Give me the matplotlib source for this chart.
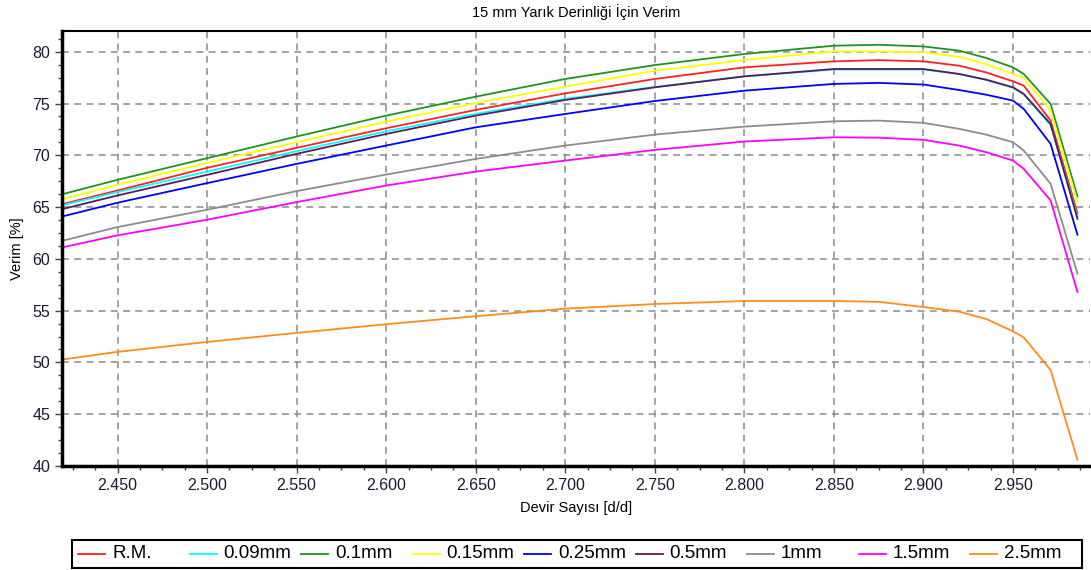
import matplotlib
matplotlib.use("Agg")
import matplotlib.pyplot as plt
from matplotlib.lines import Line2D
from matplotlib.patches import Rectangle
from matplotlib.ticker import MultipleLocator, FixedLocator

plt.rcParams['font.family'] = ['Liberation Sans', 'DejaVu Sans']

# devir sayisi (d/d)
devir = [2420, 2450, 2500, 2550, 2600, 2650, 2700, 2750, 2800, 2850,
         2875, 2900, 2920, 2935, 2950, 2956, 2971, 2986]

# verim (%) - her yarik genisligi icin
rm = [65.32, 66.6, 68.79, 70.72, 72.61, 74.38, 75.98, 77.37, 78.49, 79.07,
      79.19, 79.07, 78.65, 78.0, 77.14, 76.72, 73.35, 64.42]
g009 = [65.22, 66.45, 68.43, 70.4, 72.32, 74.0, 75.45, 76.6, 77.62, 78.28,
        78.28, 78.28, 77.85, 77.28, 76.52, 75.9, 72.9, 64.1]
g01 = [66.28, 67.63, 69.72, 71.81, 73.83, 75.66, 77.37, 78.71, 79.78, 80.58,
       80.67, 80.51, 80.1, 79.4, 78.49, 77.85, 74.96, 66.02]
g015 = [65.8, 67.15, 69.27, 71.26, 73.25, 75.05, 76.63, 78.17, 79.2, 80.03,
        80.03, 79.94, 79.5, 78.8, 77.85, 77.46, 74.31, 65.48]
g025 = [64.13, 65.42, 67.31, 69.17, 70.94, 72.7, 73.99, 75.24, 76.24, 76.89,
        76.99, 76.83, 76.3, 75.85, 75.28, 74.48, 71.1, 62.33]
g05 = [64.84, 66.12, 68.11, 70.14, 72.06, 73.83, 75.34, 76.56, 77.62, 78.33,
       78.33, 78.33, 77.85, 77.3, 76.56, 75.92, 73.03, 63.87]
g1 = [61.78, 63.07, 64.74, 66.54, 68.14, 69.65, 70.94, 72.0, 72.77, 73.28,
      73.35, 73.13, 72.55, 72.0, 71.26, 70.46, 67.25, 58.57]
g15 = [61.14, 62.27, 63.78, 65.48, 67.08, 68.43, 69.49, 70.52, 71.33, 71.74,
       71.7, 71.49, 70.94, 70.3, 69.49, 68.69, 65.64, 56.8]
g25 = [50.3, 51.02, 51.98, 52.85, 53.69, 54.46, 55.19, 55.64, 55.93, 55.93,
       55.85, 55.35, 54.9, 54.2, 53.0, 52.42, 49.27, 40.6]

etiketler = ['R.M.', '0.09mm', '0.1mm', '0.15mm', '0.25mm', '0.5mm', '1mm', '1.5mm', '2.5mm']
seriler = [rm, g009, g01, g015, g025, g05, g1, g15, g25]
renkler = ['#ff2020', '#00ffff', '#1f931f', '#ffff00', '#0000ff', '#5c1a5c',
           '#8c8c8c', '#ff00ff', '#ff8c1a']

x_ticks = [2450, 2500, 2550, 2600, 2650, 2700, 2750, 2800, 2850, 2900, 2950]
x_tick_labels = ['2.450', '2.500', '2.550', '2.600', '2.650', '2.700',
                 '2.750', '2.800', '2.850', '2.900', '2.950']
y_ticks = [40, 45, 50, 55, 60, 65, 70, 75, 80]

W, H = 1091, 570
fig = plt.figure(figsize=(W / 100, H / 100), dpi=100)
ax = fig.add_axes([62 / W, (H - 466) / H, (1090 - 62) / W, (466 - 31) / H])

for y, c in zip(seriler, renkler):
    ax.plot(devir, y, color=c, lw=1.3)

ax.set_xlim(2419, 2993)
ax.set_ylim(40, 82)
ax.xaxis.set_major_locator(FixedLocator(x_ticks))
ax.set_xticklabels(x_tick_labels)
ax.xaxis.set_minor_locator(MultipleLocator(12.5))
ax.yaxis.set_major_locator(FixedLocator(y_ticks))
ax.yaxis.set_minor_locator(MultipleLocator(1.25))
ax.tick_params(which='major', length=5, width=1, color='#444444', labelsize=11.5,
               labelcolor='#1a1a33')
ax.tick_params(which='minor', length=3, width=1, color='#444444')
ax.grid(True, which='major', color='#8a8a8a', linestyle=(0, (4.5, 3.5)), lw=1.1)

ax.spines['right'].set_visible(False)
ax.spines['left'].set_linewidth(2.5)
ax.spines['bottom'].set_linewidth(2.5)
ax.spines['top'].set_linewidth(1.5)

ax.set_title('15 mm Yarık Derinliği İçin Verim', fontsize=10.5, pad=10)
ax.set_xlabel('Devir Sayısı [d/d]', fontsize=10.5, labelpad=6)
ax.set_ylabel('Verim [%]', fontsize=10.5, labelpad=6)

# legend kutusu (esit aralikli)
fig.add_artist(Rectangle((72 / W, (H - 568) / H), (1082 - 72) / W, 28 / H,
                         transform=fig.transFigure, fill=False, ec='black', lw=1.5))
ly = (H - 554) / H
for i, (lab, c) in enumerate(zip(etiketler, renkler)):
    x0 = 78 + i * 111.5
    fig.add_artist(Line2D([x0 / W, (x0 + 27) / W], [ly, ly], color=c, lw=1.3,
                          transform=fig.transFigure))
    fig.text((x0 + 34) / W, ly, lab, fontsize=13.5, va='center', ha='left')

fig.savefig('out.png', dpi=100)
